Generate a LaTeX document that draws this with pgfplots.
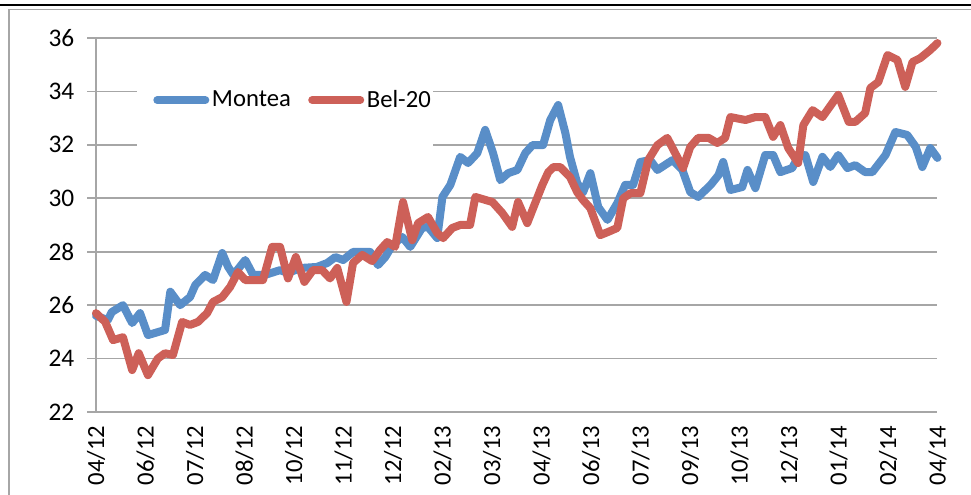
\documentclass[border=0pt]{standalone}
\usepackage{pgfplots}
\pgfplotsset{compat=1.18}
\usepackage{fontspec}
\setmainfont{Carlito}
\definecolor{mblue}{RGB}{89,142,200}
\definecolor{mred}{RGB}{205,96,88}
\definecolor{gridc}{RGB}{166,166,166}

\begin{document}
\begin{tikzpicture}
\useasboundingbox (0,0) rectangle (728.25pt,371.25pt);
\fill[white] (0,0) rectangle (728.25pt,371.25pt);
\draw[black, line width=1.8pt] (0,367.5pt) -- (728.25pt,367.5pt);
\draw[gridc, line width=1.1pt] (6.75pt,0) -- (6.75pt,364pt) -- (728.25pt,364pt);
\begin{axis}[
 at={(72pt,62.25pt)}, anchor=south west,
 width=631.1pt, height=280.5pt, scale only axis,
 xmin=0, xmax=128, ymin=22, ymax=36,
 axis x line*=bottom, axis y line*=left,
 axis line style={-, gridc, line width=1.3pt},
 ytick={22,24,...,36}, ymajorgrids,
 major grid style={gridc, line width=1.3pt},
 ytick style={gridc, line width=1.3pt},
 major tick length=6.75pt, tick align=outside,
 xtick={0,7.5294117,...,128.01},
 xtick style={draw=none},
 minor xtick={0,1.0756303,...,128.01},
 minor tick length=3.75pt,
 minor x tick style={gridc, line width=1.1pt},
 xticklabels={04/12,06/12,07/12,08/12,10/12,11/12,12/12,02/13,03/13,04/13,06/13,07/13,09/13,10/13,12/13,01/14,02/14,04/14},
 x tick label style={rotate=90, anchor=east, font=\fontsize{18.5}{20}\selectfont},
 y tick label style={font=\fontsize{19}{20}\selectfont, xshift=-6pt},
 /pgf/number format/assume math mode=true,
 clip=false,
 legend columns=2,
 legend style={at={(0.0678,0.834)}, anchor=west, draw=none, fill=none, inner sep=0pt,
   font=\fontsize{18.5}{20}\selectfont,
   /tikz/every even column/.append style={column sep=11pt}},
 legend image code/.code={\draw[#1, line cap=round] (0pt,0pt) -- (36pt,0pt);},
 every axis plot/.append style={line width=6pt, line join=round, line cap=round},
]
\fill[white] (axis cs:6.2,31.75) rectangle (axis cs:51.3,34.9);
\addplot[mblue] coordinates {
(0,25.6)(1.8,25.44)(2.4,25.74)(4.1,26.0)(5.5,25.33)(6.7,25.7)(7.9,24.88)(10.5,25.07)(11.3,26.5)(12.8,26.0)(14.3,26.3)(15.1,26.75)(16.6,27.13)(17.8,26.94)(19.2,27.95)(20.1,27.43)(20.9,27.13)(22.7,27.69)(23.9,27.13)(25.7,27.13)(28.0,27.31)(29.2,27.2)(31.1,27.39)(33.6,27.43)(35.2,27.58)(36.4,27.8)(37.6,27.69)(39.1,27.99)(41.7,27.99)(42.9,27.5)(44.0,27.8)(45.1,28.25)(46.6,28.55)(47.8,28.18)(49.6,28.89)(50.5,28.93)(51.9,28.51)(52.7,30.05)(53.9,30.5)(55.4,31.55)(56.6,31.32)(58.0,31.69)(59.2,32.56)(60.4,31.69)(61.5,30.68)(62.7,30.94)(64.1,31.06)(65.3,31.69)(66.4,31.99)(68.0,31.99)(69.1,32.93)(70.3,33.49)(71.4,32.44)(72.1,31.55)(73.2,30.57)(74.1,30.23)(75.2,30.94)(76.4,29.67)(77.8,29.19)(79.3,29.82)(80.5,30.5)(81.7,30.5)(82.8,31.36)(84.3,31.43)(85.4,31.06)(87.7,31.43)(89.2,31.06)(90.4,30.23)(91.6,30.05)(93.5,30.5)(94.7,30.87)(95.4,31.36)(96.5,30.31)(98.3,30.42)(99.1,31.06)(100.3,30.38)(101.8,31.62)(103.0,31.62)(104.1,30.98)(105.9,31.13)(106.8,31.55)(107.9,31.62)(109.1,30.61)(110.5,31.55)(111.7,31.17)(112.9,31.62)(114.3,31.13)(115.5,31.24)(117.0,30.98)(118.1,30.98)(120.1,31.62)(121.6,32.48)(123.4,32.37)(124.7,31.92)(125.7,31.17)(126.9,31.88)(128,31.51)
};
\addlegendentry{Montea}
\addplot[mred] coordinates {
(0,25.7)(1.4,25.37)(2.6,24.69)(4.1,24.8)(5.5,23.57)(6.5,24.2)(7.9,23.38)(9.4,24.0)(10.5,24.2)(11.7,24.13)(13.1,25.37)(14.3,25.26)(15.5,25.37)(16.9,25.7)(17.8,26.12)(19.2,26.3)(20.4,26.68)(21.6,27.24)(22.7,26.94)(25.4,26.94)(26.8,28.18)(28.0,28.18)(29.2,27.0)(30.4,27.8)(31.7,26.87)(33.0,27.31)(34.4,27.31)(35.6,27.0)(36.7,27.39)(38.1,26.12)(39.1,27.58)(40.5,27.88)(42.0,27.65)(43.2,28.06)(44.3,28.36)(45.5,28.18)(46.7,29.86)(48.1,28.43)(49.0,29.07)(50.5,29.3)(51.9,28.7)(52.8,28.51)(54.2,28.89)(55.4,29.0)(56.9,29.0)(57.7,30.05)(60.3,29.86)(61.8,29.45)(63.3,28.93)(64.2,29.86)(65.6,29.07)(66.8,29.82)(67.9,30.5)(68.8,30.98)(69.6,31.17)(70.6,31.17)(72.1,30.8)(73.2,30.23)(74.1,29.93)(75.2,29.63)(76.7,28.62)(77.9,28.74)(79.3,28.89)(80.2,30.0)(81.3,30.19)(82.8,30.19)(84.0,31.43)(85.4,31.99)(86.9,32.26)(88.1,31.69)(89.3,31.13)(90.4,31.92)(91.6,32.26)(93.2,32.26)(94.5,32.07)(95.7,32.26)(96.5,33.04)(98.8,32.93)(100.3,33.04)(101.8,33.04)(103.0,32.3)(104.1,32.74)(105.3,31.88)(106.8,31.32)(107.6,32.74)(109.0,33.3)(110.5,33.04)(112.9,33.87)(114.5,32.86)(115.5,32.86)(117.0,33.19)(117.8,34.13)(119.0,34.35)(120.4,35.36)(121.9,35.18)(123.1,34.17)(124.2,35.1)(125.4,35.25)(126.9,35.55)(128,35.81)
};
\addlegendentry{Bel-20}
\end{axis}
\end{tikzpicture}
\end{document}
